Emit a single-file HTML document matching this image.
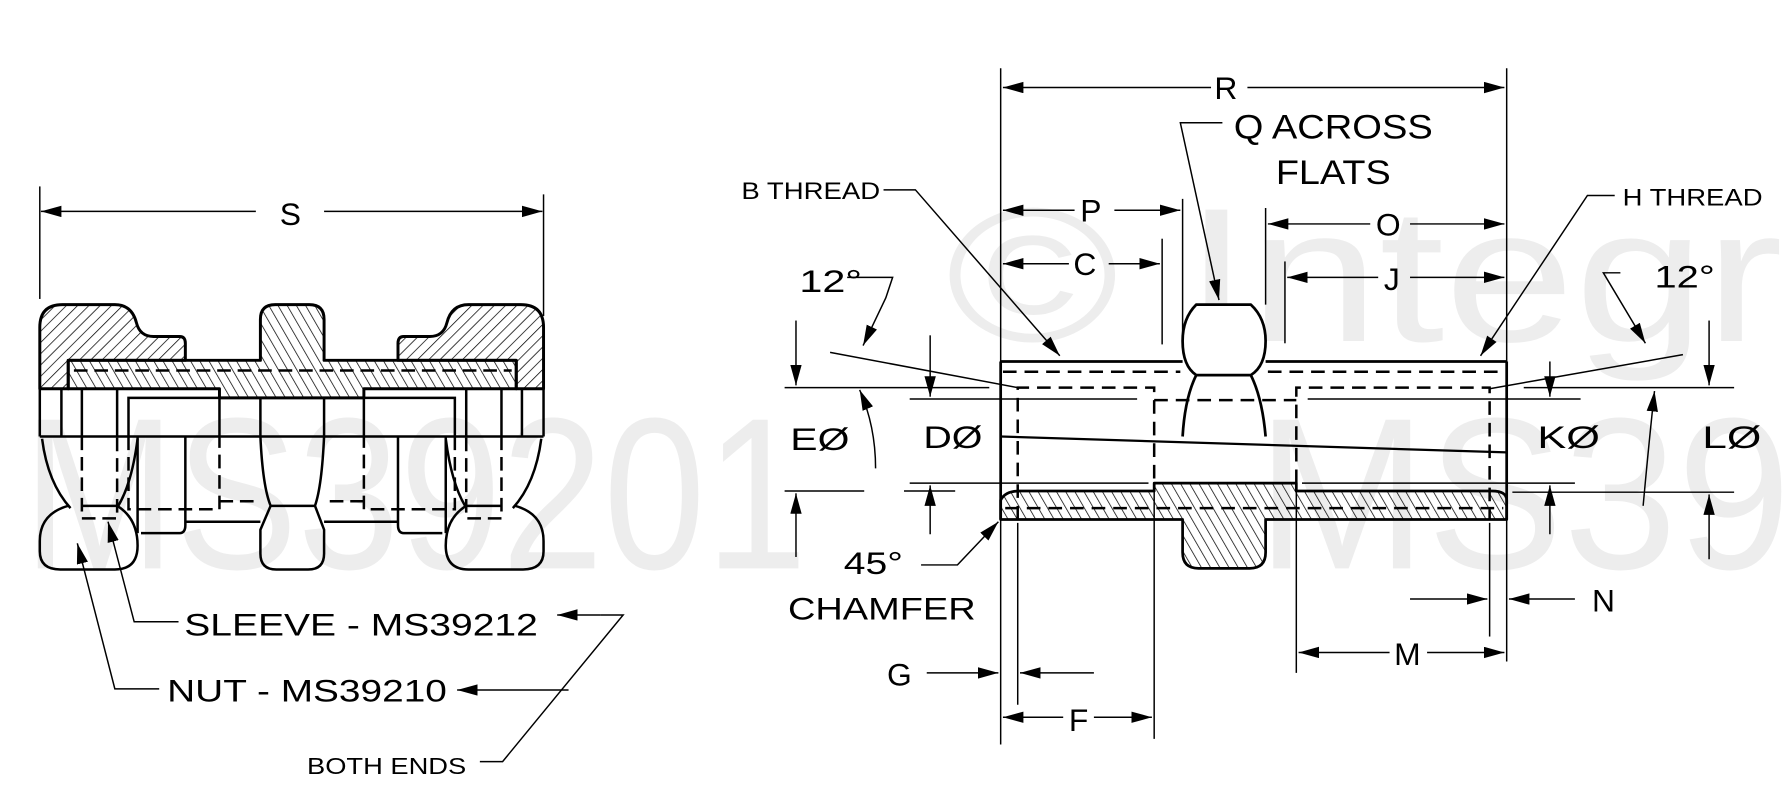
<!DOCTYPE html>
<html><head><meta charset="utf-8"><style>
html,body{margin:0;padding:0;background:#fff;}
svg{display:block;}
text{font-family:"Liberation Sans",sans-serif;}
.k{fill:#000;}
.w{fill:#ededed;}
</style></head><body>
<svg width="1783" height="790" viewBox="0 0 1568 695" preserveAspectRatio="none" xmlns="http://www.w3.org/2000/svg">
<defs>
<marker id="a" markerWidth="20" markerHeight="12" refX="18" refY="5" orient="auto" markerUnits="userSpaceOnUse"><path d="M0,0 L18,5 L0,10 z" fill="#000"/></marker>
<pattern id="hf" width="7" height="7" patternUnits="userSpaceOnUse" patternTransform="rotate(45)"><line x1="0" y1="0" x2="0" y2="7" stroke="#000" stroke-width="1.3"/></pattern>
<pattern id="hb" width="7" height="7" patternUnits="userSpaceOnUse" patternTransform="rotate(-30)"><line x1="0" y1="0" x2="0" y2="7" stroke="#000" stroke-width="1.3"/></pattern>
</defs>
<rect width="1568" height="695" fill="#fff"/>
<g>
<text class="w" x="832" y="300" font-size="168" textLength="736" lengthAdjust="spacingAndGlyphs">© Integr</text>
<text class="w" x="20" y="500" font-size="190" textLength="690" lengthAdjust="spacingAndGlyphs">MS39201</text>
<text class="w" x="1105" y="500" font-size="190" textLength="470" lengthAdjust="spacingAndGlyphs">MS39</text>
</g>

<g stroke="#000" fill="none" stroke-width="1.3">
<line x1="35" y1="164" x2="35" y2="263"/>
<line x1="478" y1="171" x2="478" y2="278"/>
<line x1="225" y1="186" x2="36" y2="186" marker-end="url(#a)"/>
<line x1="285" y1="186" x2="477" y2="186" marker-end="url(#a)"/>
</g>
<text class="k" x="246" y="198" font-size="28">S</text>

<g stroke="#000" stroke-width="2.6" stroke-linejoin="round">
<path d="M35,342 L35,288 Q35,268 55,268 L101,268 Q116,268 120,284 Q123,296 135,296 L158,296 Q163,296 163,302 L163,317 L60,317 L60,342 Z" fill="url(#hf)"/>
<path d="M478,342 L478,288 Q478,268 458,268 L412,268 Q397,268 393,284 Q390,296 378,296 L355,296 Q350,296 350,302 L350,317 L454,317 L454,342 Z" fill="url(#hf)"/>
<path d="M60,317 L229,317 L229,281 Q229,268 242,268 L272,268 Q285,268 285,281 L285,317 L454,317 L454,342 L320,342 L320,350 L193,350 L193,342 L60,342 Z" fill="url(#hb)"/>
</g>
<g stroke="#000" fill="none" stroke-width="2.2">
<line x1="65" y1="326" x2="450" y2="326" stroke-dasharray="12,6"/>
<line x1="35" y1="384" x2="478" y2="384"/>
<line x1="35" y1="342" x2="35" y2="384"/>
<line x1="478" y1="342" x2="478" y2="384"/>
<line x1="54" y1="342" x2="54" y2="384"/>
<line x1="72" y1="342" x2="72" y2="384"/>
<line x1="103" y1="342" x2="103" y2="384"/>
<path d="M113,384 L113,350 L193,350 L193,384"/>
<line x1="229" y1="350" x2="229" y2="384"/>
<line x1="285" y1="350" x2="285" y2="384"/>
<path d="M400,384 L400,350 L320,350 L320,384"/>
<line x1="459" y1="342" x2="459" y2="384"/>
<line x1="441" y1="342" x2="441" y2="384"/>
<line x1="410" y1="342" x2="410" y2="384"/>
<g stroke-dasharray="12,6">
<path d="M72,384 L72,456 L103,456 L103,384"/>
<path d="M113,384 L113,448 L193,448 L193,384"/>
<path d="M193,441 L229,441"/>
<path d="M441,384 L441,456 L410,456 L410,384"/>
<path d="M400,384 L400,448 L320,448 L320,384"/>
<path d="M320,441 L285,441"/>
</g>
<line x1="72" y1="445" x2="103" y2="445"/>
<line x1="410" y1="445" x2="441" y2="445"/>
<!-- left lower nut -->
<path d="M37,386 Q42,425 62,447 M121,386 Q116,425 104,445"/>
<path d="M60,445 Q35,452 35,476 L35,485 Q35,501 53,501 L101,501 Q121,501 121,480 Q121,456 103,445"/>
<path d="M121,384 L121,469 M124,469 L158,469 Q163,469 163,462 L163,384 M163,459 L229,459"/>
<!-- right lower nut -->
<path d="M476,386 Q471,425 451,447 M392,386 Q397,425 409,445"/>
<path d="M453,445 Q478,452 478,476 L478,485 Q478,501 460,501 L412,501 Q392,501 392,480 Q392,456 410,445"/>
<path d="M392,384 L392,469 M389,469 L355,469 Q350,469 350,462 L350,384 M350,459 L285,459"/>
<!-- center hex lower -->
<path d="M229,384 Q231,428 238,445 L229,466 L229,487 Q229,501 243,501 L271,501 Q285,501 285,487 L285,466 L277,445 Q283,428 285,384 M238,445 L277,445"/>
</g>
<g stroke="#000" fill="none" stroke-width="1.3">
<polyline points="157,547 118,547 95,459" marker-end="url(#a)"/>
<polyline points="140,606 101,606 68,478" marker-end="url(#a)"/>
<polyline points="422,670 442,670 548,541 528,541"/>
<line x1="528" y1="541" x2="490" y2="541" marker-end="url(#a)"/>
<line x1="500" y1="607" x2="402" y2="607" marker-end="url(#a)"/>
</g>
<text class="k" x="162" y="559" font-size="28" textLength="311" lengthAdjust="spacingAndGlyphs">SLEEVE - MS39212</text>
<text class="k" x="147" y="617" font-size="28" textLength="246" lengthAdjust="spacingAndGlyphs">NUT - MS39210</text>
<text class="k" x="270" y="681" font-size="20" textLength="140" lengthAdjust="spacingAndGlyphs">BOTH ENDS</text>

<g stroke="#000" fill="none" stroke-width="1.3">
<line x1="880" y1="60" x2="880" y2="655"/>
<line x1="1325" y1="60" x2="1325" y2="582"/>
<line x1="1065" y1="77" x2="882" y2="77" marker-end="url(#a)"/>
<line x1="1097" y1="77" x2="1323" y2="77" marker-end="url(#a)"/>
<polyline points="1075,108 1038,108 1072,264" marker-end="url(#a)"/>
<polyline points="777,167 805,167 932,313" marker-end="url(#a)"/>
<polyline points="1420,172 1396,172 1302,313" marker-end="url(#a)"/>
<line x1="1040" y1="175" x2="1040" y2="300"/>
<line x1="945" y1="185" x2="882" y2="185" marker-end="url(#a)"/>
<line x1="980" y1="185" x2="1038" y2="185" marker-end="url(#a)"/>
<line x1="1022" y1="210" x2="1022" y2="303"/>
<line x1="940" y1="232" x2="882" y2="232" marker-end="url(#a)"/>
<line x1="975" y1="232" x2="1020" y2="232" marker-end="url(#a)"/>
<line x1="1113" y1="183" x2="1113" y2="268"/>
<line x1="1205" y1="197" x2="1115" y2="197" marker-end="url(#a)"/>
<line x1="1240" y1="197" x2="1323" y2="197" marker-end="url(#a)"/>
<line x1="1130" y1="230" x2="1130" y2="302"/>
<line x1="1212" y1="244" x2="1132" y2="244" marker-end="url(#a)"/>
<line x1="1240" y1="244" x2="1323" y2="244" marker-end="url(#a)"/>
<polyline points="745,244 785,244 779,262 759,304" marker-end="url(#a)"/>
<line x1="730" y1="310" x2="895" y2="341"/>
<polyline points="1425,240 1410,240 1447,302" marker-end="url(#a)"/>
<line x1="1480" y1="312" x2="1310" y2="342"/>
<line x1="690" y1="341" x2="870" y2="341"/>
<line x1="700" y1="282" x2="700" y2="339" marker-end="url(#a)"/>
<line x1="690" y1="432" x2="760" y2="432"/>
<line x1="700" y1="490" x2="700" y2="434" marker-end="url(#a)"/>
<path d="M770,412 Q770,375 756,343" marker-end="url(#a)"/>
<line x1="800" y1="351" x2="1000" y2="351"/>
<line x1="818" y1="295" x2="818" y2="349" marker-end="url(#a)"/>
<line x1="800" y1="425" x2="1010" y2="425"/>
<line x1="818" y1="470" x2="818" y2="427" marker-end="url(#a)"/>
<line x1="795" y1="432" x2="840" y2="432"/>
<line x1="1150" y1="351" x2="1390" y2="351"/>
<line x1="1363" y1="318" x2="1363" y2="349" marker-end="url(#a)"/>
<line x1="1145" y1="425" x2="1385" y2="425"/>
<line x1="1363" y1="470" x2="1363" y2="427" marker-end="url(#a)"/>
<line x1="1340" y1="341" x2="1525" y2="341"/>
<line x1="1503" y1="282" x2="1503" y2="339" marker-end="url(#a)"/>
<line x1="1330" y1="433" x2="1525" y2="433"/>
<line x1="1503" y1="492" x2="1503" y2="435" marker-end="url(#a)"/>
<path d="M1445,445 Q1450,390 1455,344" marker-end="url(#a)"/>
<polyline points="810,497 842,497 878,459" marker-end="url(#a)"/>
<line x1="1310" y1="460" x2="1310" y2="560"/>
<line x1="1240" y1="527" x2="1308" y2="527" marker-end="url(#a)"/>
<line x1="1385" y1="527" x2="1327" y2="527" marker-end="url(#a)"/>
<line x1="1140" y1="430" x2="1140" y2="592"/>
<line x1="1222" y1="574" x2="1142" y2="574" marker-end="url(#a)"/>
<line x1="1255" y1="574" x2="1323" y2="574" marker-end="url(#a)"/>
<line x1="895" y1="460" x2="895" y2="620"/>
<line x1="815" y1="592" x2="878" y2="592" marker-end="url(#a)"/>
<line x1="962" y1="592" x2="897" y2="592" marker-end="url(#a)"/>
<line x1="1015" y1="430" x2="1015" y2="650"/>
<line x1="935" y1="631" x2="882" y2="631" marker-end="url(#a)"/>
<line x1="962" y1="631" x2="1013" y2="631" marker-end="url(#a)"/>
</g>

<g stroke="#000" stroke-width="2.4" fill="none" stroke-linejoin="round">
<path d="M880,457 L880,440 Q884,432 896,432 L1015,432 L1015,425 L1140,425 L1140,432 L1312,432 Q1325,432 1325,440 L1325,457 L1113,457 L1113,486 Q1113,500 1099,500 L1054,500 Q1040,500 1040,486 L1040,457 Z" fill="url(#hb)"/>
<line x1="880" y1="318" x2="1040" y2="318"/>
<line x1="1113" y1="318" x2="1325" y2="318"/>
<line x1="880" y1="318" x2="880" y2="457"/>
<line x1="1325" y1="318" x2="1325" y2="457"/>
<path d="M1052,268 L1100,268 Q1113,280 1113,300 Q1113,322 1100,330 L1052,330 Q1040,322 1040,300 Q1040,280 1052,268 Z" fill="#fff"/>
<path d="M1052,330 Q1042,350 1040,384 M1100,330 Q1110,350 1113,384"/>
<line x1="880" y1="384" x2="1325" y2="398" stroke-width="2"/>
</g>
<g stroke="#000" stroke-width="2.2" fill="none" stroke-dasharray="12,7">
<line x1="882" y1="327" x2="1038" y2="327"/>
<line x1="1115" y1="327" x2="1323" y2="327"/>
<path d="M895,457 L895,341 L1015,341 L1015,425"/>
<path d="M1015,352 L1140,352"/>
<path d="M1140,425 L1140,341 L1310,341 L1310,457"/>
<line x1="884" y1="447" x2="1322" y2="447"/>
</g>

<g>
<text class="k" x="1068" y="87" font-size="28">R</text>
<text class="k" x="1085" y="122" font-size="30" textLength="175" lengthAdjust="spacingAndGlyphs">Q ACROSS</text>
<text class="k" x="1122" y="162" font-size="30" textLength="101" lengthAdjust="spacingAndGlyphs">FLATS</text>
<text class="k" x="652" y="175" font-size="21" textLength="122" lengthAdjust="spacingAndGlyphs">B THREAD</text>
<text class="k" x="1427" y="181" font-size="21" textLength="123" lengthAdjust="spacingAndGlyphs">H THREAD</text>
<text class="k" x="950" y="195" font-size="28">P</text>
<text class="k" x="944" y="242" font-size="28">C</text>
<text class="k" x="1210" y="207" font-size="28">O</text>
<text class="k" x="1217" y="255" font-size="28">J</text>
<text class="k" x="703" y="257" font-size="28" textLength="55" lengthAdjust="spacingAndGlyphs">12°</text>
<text class="k" x="1455" y="253" font-size="28" textLength="53" lengthAdjust="spacingAndGlyphs">12°</text>
<text class="k" x="695" y="396" font-size="28" textLength="52" lengthAdjust="spacingAndGlyphs">EØ</text>
<text class="k" x="812" y="394" font-size="28" textLength="52" lengthAdjust="spacingAndGlyphs">DØ</text>
<text class="k" x="1352" y="394" font-size="28" textLength="55" lengthAdjust="spacingAndGlyphs">KØ</text>
<text class="k" x="1497" y="394" font-size="28" textLength="52" lengthAdjust="spacingAndGlyphs">LØ</text>
<text class="k" x="742" y="505" font-size="28" textLength="52" lengthAdjust="spacingAndGlyphs">45°</text>
<text class="k" x="693" y="545" font-size="28" textLength="165" lengthAdjust="spacingAndGlyphs">CHAMFER</text>
<text class="k" x="1400" y="538" font-size="28">N</text>
<text class="k" x="1226" y="585" font-size="28">M</text>
<text class="k" x="780" y="603" font-size="28">G</text>
<text class="k" x="940" y="643" font-size="28">F</text>
</g>
</svg>
</body></html>
